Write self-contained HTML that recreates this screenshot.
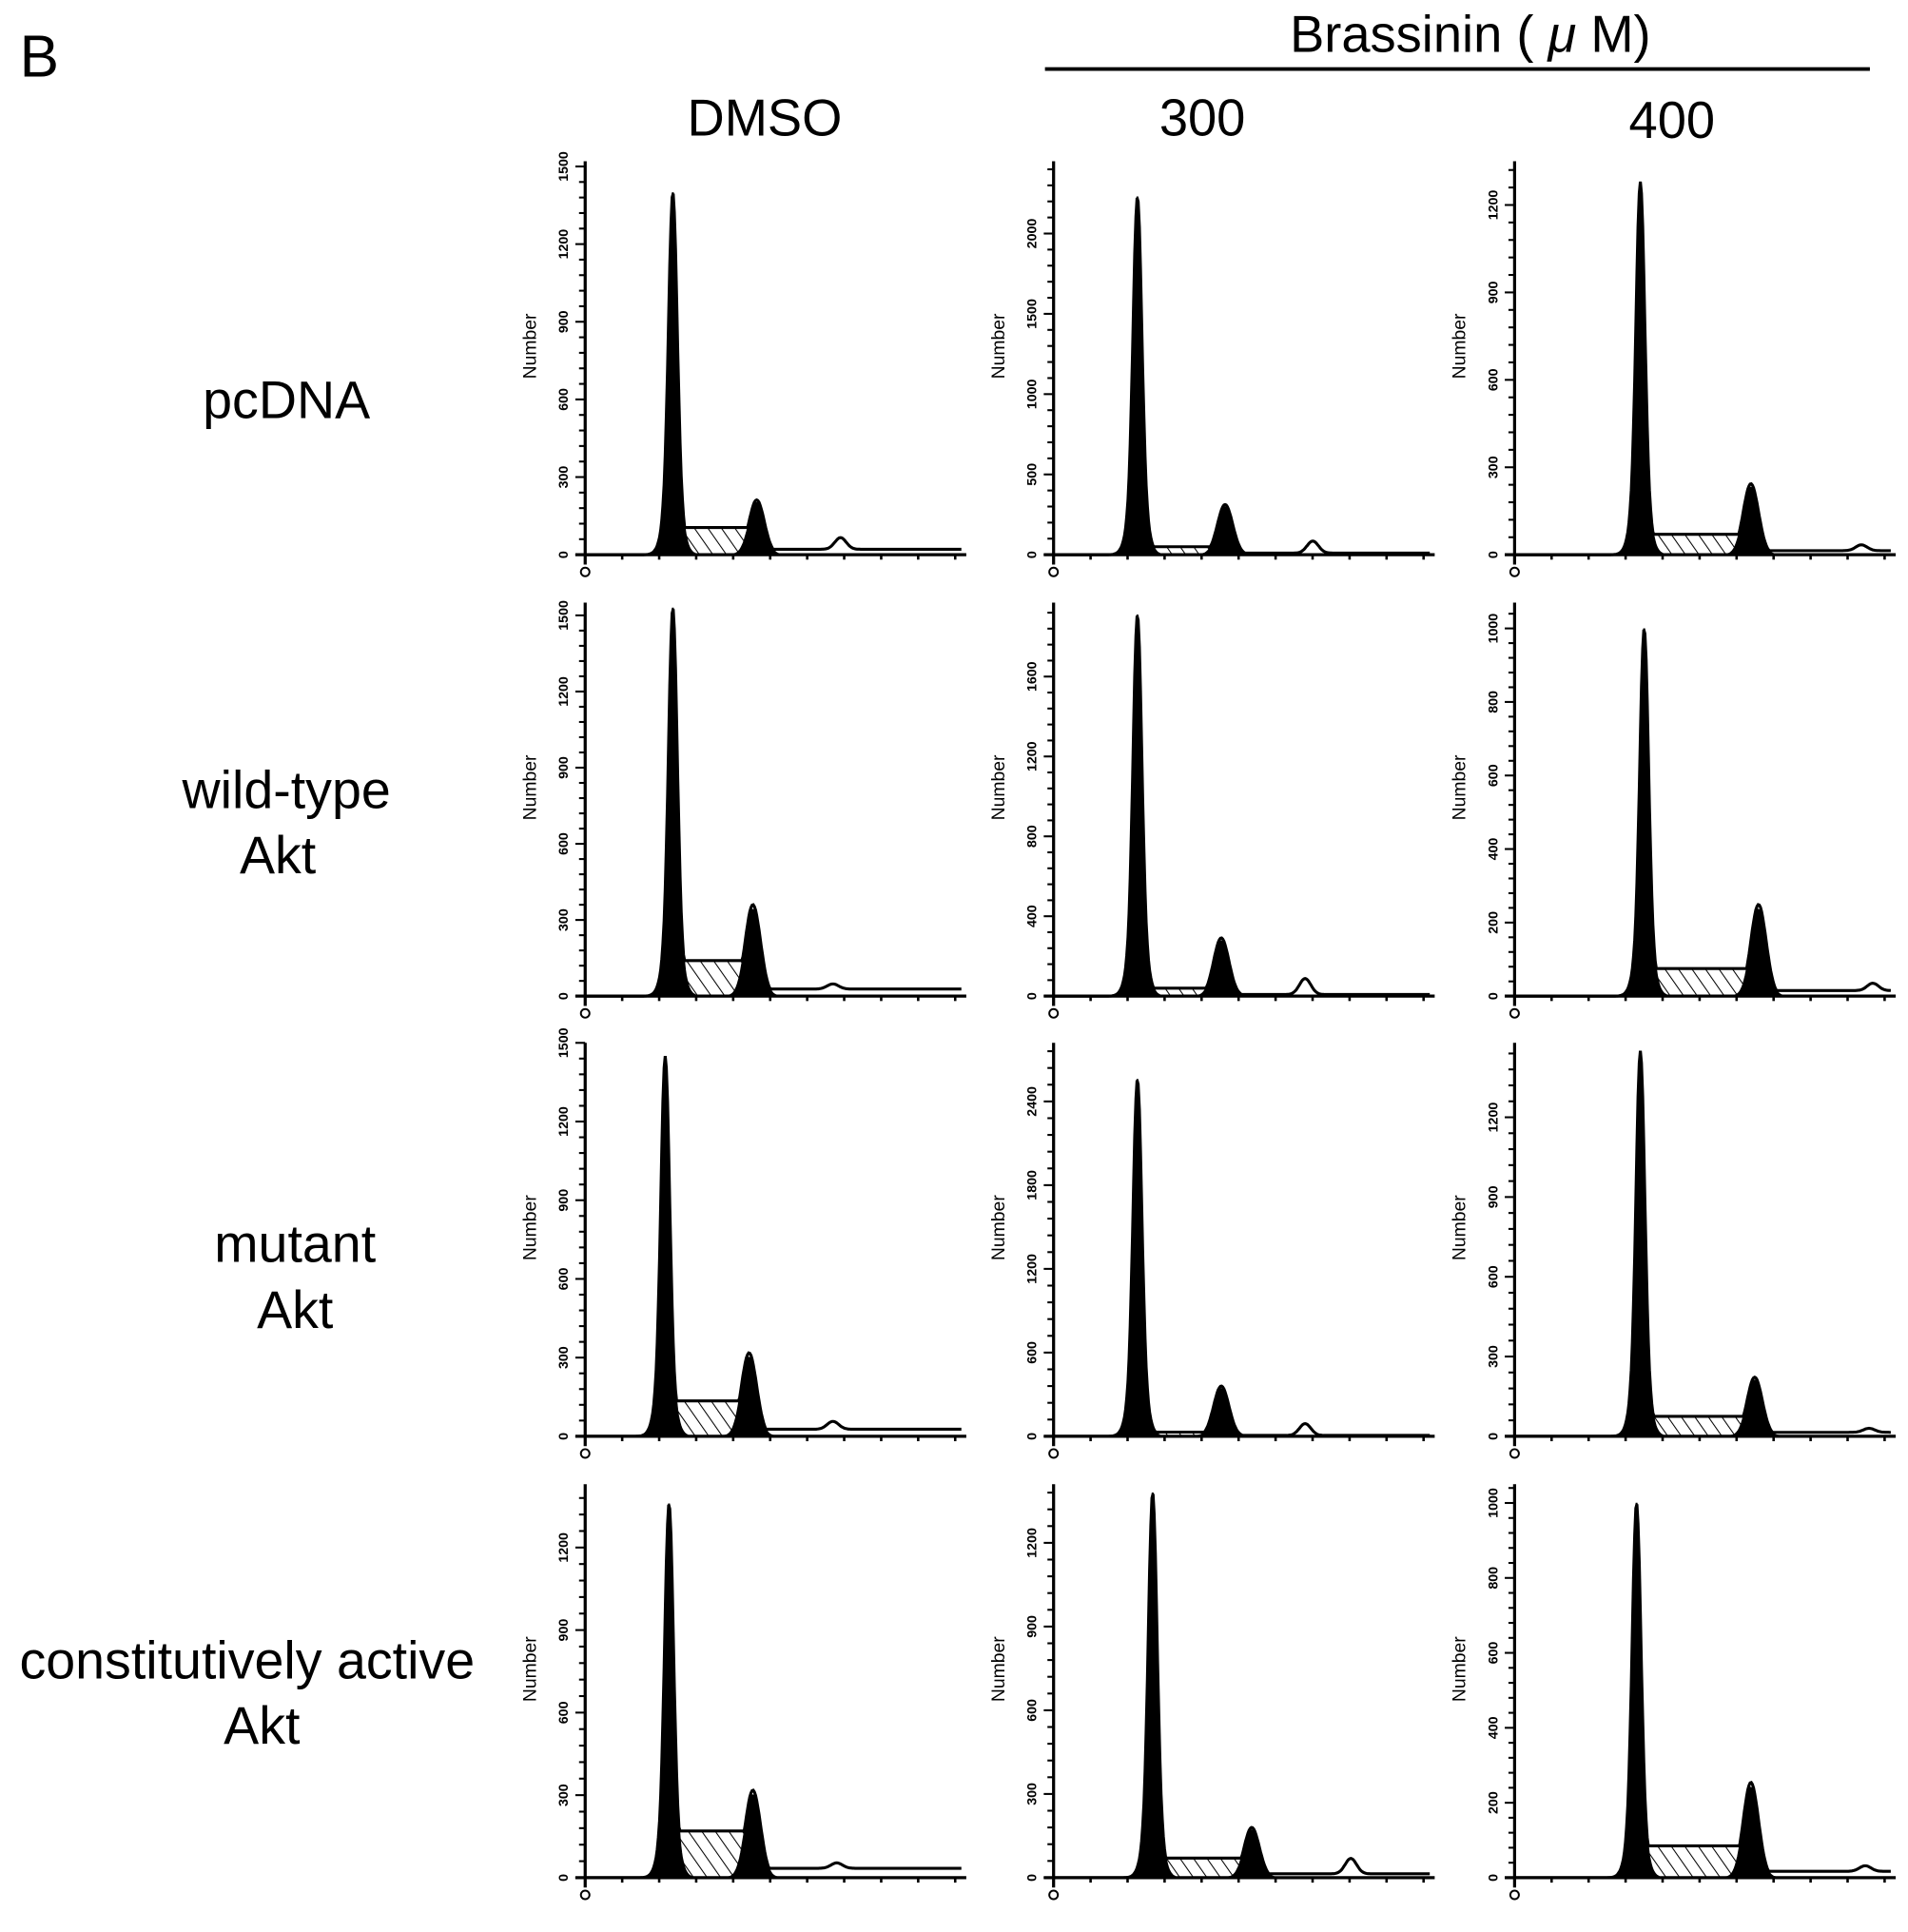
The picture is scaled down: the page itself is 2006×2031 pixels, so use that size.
<!DOCTYPE html>
<html><head><meta charset="utf-8">
<style>
html,body{margin:0;padding:0;background:#fff;}
svg{display:block;}
text{font-family:"Liberation Sans",sans-serif;fill:#000;}
</style></head>
<body>
<svg id="fig" width="2006" height="2031" viewBox="0 0 1552 1571" xmlns="http://www.w3.org/2000/svg">
<defs>
<pattern id="hatch" patternUnits="userSpaceOnUse" width="9" height="9" patternTransform="rotate(-35)">
<rect width="9" height="9" fill="#fff"/>
<line x1="0" y1="0" x2="0" y2="9" stroke="#000" stroke-width="1.6"/>
</pattern>
</defs>
<text x="16" y="62" font-size="48">B</text>
<text x="1196" y="42" font-size="42" text-anchor="middle">Brassinin ( <tspan font-style="italic">μ</tspan> M)</text>
<line x1="850" y1="56" x2="1521" y2="56" stroke="#000" stroke-width="3"/>
<text x="622" y="110" font-size="42" text-anchor="middle">DMSO</text>
<text x="978" y="110" font-size="42" text-anchor="middle">300</text>
<text x="1360" y="112" font-size="42" text-anchor="middle">400</text>
<text x="233" y="340" font-size="43" text-anchor="middle">pcDNA</text>
<text x="233" y="657" font-size="43" text-anchor="middle">wild-type</text>
<text x="226" y="710" font-size="43" text-anchor="middle">Akt</text>
<text x="240" y="1026" font-size="43" text-anchor="middle">mutant</text>
<text x="240" y="1080" font-size="43" text-anchor="middle">Akt</text>
<text x="201" y="1365" font-size="43" text-anchor="middle">constitutively active</text>
<text x="213" y="1418" font-size="43" text-anchor="middle">Akt</text>
<g id="panels"></g>
</svg>
<script>
// per-panel data (row-major: pcDNA, wild-type, mutant, constitutive; cols DMSO, 300, 400)
const panelNames = ["pcdna-dmso","pcdna-300","pcdna-400","wt-dmso","wt-300","wt-400","mut-dmso","mut-300","mut-400","ca-dmso","ca-300","ca-400"];
const yMaxes = [1520,2450,1350,1550,1970,1070,1500,2820,1480,1430,1410,1050];
const yTickStep = [300,500,300,300,400,200,300,600,300,300,300,200];
const g1Pos = [0.23,0.22,0.33,0.23,0.22,0.34,0.21,0.22,0.33,0.22,0.26,0.32];
const g1Count = [1400,2230,1280,1530,1910,1000,1450,2560,1450,1360,1380,1000];
const g2Pos = [0.45,0.45,0.62,0.44,0.44,0.64,0.43,0.44,0.63,0.44,0.52,0.62];
const g2Count = [200,295,230,340,275,235,300,340,210,300,170,240];
const sCount = [105,50,70,140,40,75,135,30,75,170,70,85];
const bumpCount = [45,75,20,20,80,20,30,85,15,20,55,15];

const colX = [476,857,1232];
const rowBase = [451,810,1168,1527];
const PW = 310, PH = 320;
const NS = "http://www.w3.org/2000/svg";
const root = document.getElementById('panels');
function mk(tag, attrs, parent){const e=document.createElementNS(NS,tag);for(const k in attrs)e.setAttribute(k,attrs[k]);parent.appendChild(e);return e;}

for(let i=0;i<12;i++){
  const r=Math.floor(i/3), c=i%3;
  const x0=colX[c], y0=rowBase[r];
  const ymax=yMaxes[i];
  const sx=f=>x0+f*PW;
  const sy=v=>y0-v/ymax*PH;
  const g=mk('g',{},root);
  
  
  const gauss=(f,m,s)=>Math.exp(-0.5*((f-m)/s)*((f-m)/s));
  const a=g1Pos[i], b=g2Pos[i], bp=b+(b-a);
  const comp=f=>{
    const p1=g1Count[i]*(0.8*gauss(f,a,0.011)+0.2*gauss(f,a,0.02));
    const p2=g2Count[i]*gauss(f,b,0.02);
    let s=0; if(f>a&&f<b) s=sCount[i];
    const bump=bumpCount[i]*gauss(f,bp,0.015);
    const tail=f>b?sCount[i]*0.2:0;
    return {p1,p2,tot:Math.max(p1,p2*1.06,s,tail+bump)};
  };
  let hd='M'+sx(a)+','+y0+' L'+sx(a)+','+sy(sCount[i])+' L'+sx(b)+','+sy(sCount[i])+' L'+sx(b)+','+y0+' Z';
  const hatch=mk('path',{d:hd,fill:'url(#hatch)',stroke:'#000','stroke-width':1.5},g);
  
  
  let d1='M'+sx(a-0.06)+','+y0, d2='M'+sx(b-0.07)+','+y0;
  for(let f=a-0.06;f<=a+0.06;f+=0.002){d1+=' L'+sx(f).toFixed(1)+','+sy(comp(f).p1).toFixed(1);}
  for(let f=b-0.07;f<=b+0.07;f+=0.003){d2+=' L'+sx(f).toFixed(1)+','+sy(comp(f).p2).toFixed(1);}
  d1+=' L'+sx(a+0.06)+','+y0+' Z'; d2+=' L'+sx(b+0.07)+','+y0+' Z';
  const pk1=mk('path',{d:d1,fill:'#000',stroke:'#000','stroke-width':1.5},g);
  
  
  const pk2=mk('path',{d:d2,fill:'#000',stroke:'#000','stroke-width':1.5},g);
  
  
  let od='M'+sx(0)+','+y0;
  for(let f=0;f<=0.99;f+=0.003){od+=' L'+sx(f).toFixed(1)+','+sy(comp(f).tot).toFixed(1);}
  const ol=mk('path',{d:od,fill:'none',stroke:'#000','stroke-width':2.4},g);
  
  
  const ya=mk('line',{x1:x0,y1:y0-PH,x2:x0,y2:y0+8,stroke:'#000','stroke-width':2.5},g);
  
  
  const xa=mk('line',{x1:x0-8,y1:y0,x2:x0+PW,y2:y0,stroke:'#000','stroke-width':2.5},g);
  
  
  for(let k=1;k<=10;k++){
    const t=mk('line',{x1:x0+k*PW/10.3,y1:y0,x2:x0+k*PW/10.3,y2:y0+4,stroke:'#000','stroke-width':2},g);
    
    
  }
  const step=yTickStep[i], minor=step/5;
  for(let v=0;v<=ymax;v+=minor){
    const major=Math.abs(v/step-Math.round(v/step))<1e-6;
    const t=mk('line',{x1:x0-(major?8:5),y1:sy(v),x2:x0,y2:sy(v),stroke:'#000','stroke-width':1.6},g);
    
    
    if(major){
      const tx=mk('text',{x:x0-14,y:sy(v),'font-size':11,'font-weight':'bold','text-anchor':'middle',transform:'rotate(-90 '+(x0-14)+' '+sy(v)+')'},g);
      tx.textContent=String(Math.round(v));
      
      
    }
  }
  const lbl=mk('text',{x:x0-40,y:y0-PH*0.53,'font-size':15,'text-anchor':'middle',transform:'rotate(-90 '+(x0-40)+' '+(y0-PH*0.53)+')'},g);
  lbl.textContent='Number';
  
  
  const o=mk('circle',{cx:x0,cy:y0+14,r:3.5,fill:'none',stroke:'#000','stroke-width':1.5},g);
  
  
}
</script>
</body></html>
